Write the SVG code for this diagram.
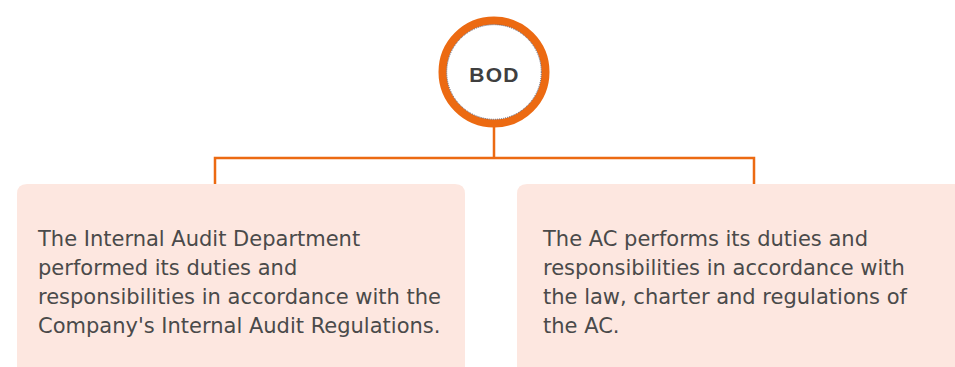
<svg xmlns="http://www.w3.org/2000/svg" width="955" height="367" viewBox="0 0 955 367">
<style>
.box{fill:#FDE7E0}
.t{font-family:"DejaVu Sans","Liberation Sans",sans-serif;font-size:21px;fill:#4A4A4A}
.conn{fill:none;stroke:#EC6A12;stroke-width:2.5}
</style>
<rect width="955" height="367" fill="#FFFFFF"/>
<g id="connectors">
<path class="conn" d="M494 126 V158 M215 184 V158 H754 V184"/>
</g>
<g id="bod">
<circle cx="494" cy="72" r="51.5" fill="#FFFFFF" stroke="#EC6A12" stroke-width="8"/>
<circle cx="494" cy="72" r="47.3" fill="none" stroke="#55556A" stroke-width="1" stroke-dasharray="1 1"/>
<text x="494.5" y="82" text-anchor="middle" font-family="Liberation Sans,Arial,sans-serif" font-weight="bold" font-size="21" fill="#3F3F3F" letter-spacing="1.2">BOD</text>
</g>
<g id="internal-audit">
<path class="box" d="M27 184 H455 Q465 184 465 194 V367 H17 V194 Q17 184 27 184 Z"/>
<text class="t"><tspan x="38" y="246">The Internal Audit Department</tspan><tspan x="38" y="275">performed its duties and</tspan><tspan x="38" y="304">responsibilities in accordance with the</tspan><tspan x="38" y="333">Company's Internal Audit Regulations.</tspan></text>
</g>
<g id="ac">
<path class="box" d="M527 184 H955 V367 H517 V194 Q517 184 527 184 Z"/>
<text class="t"><tspan x="543" y="246">The AC performs its duties and</tspan><tspan x="543" y="275">responsibilities in accordance with</tspan><tspan x="543" y="304">the law, charter and regulations of</tspan><tspan x="543" y="333">the AC.</tspan></text>
</g>
</svg>
